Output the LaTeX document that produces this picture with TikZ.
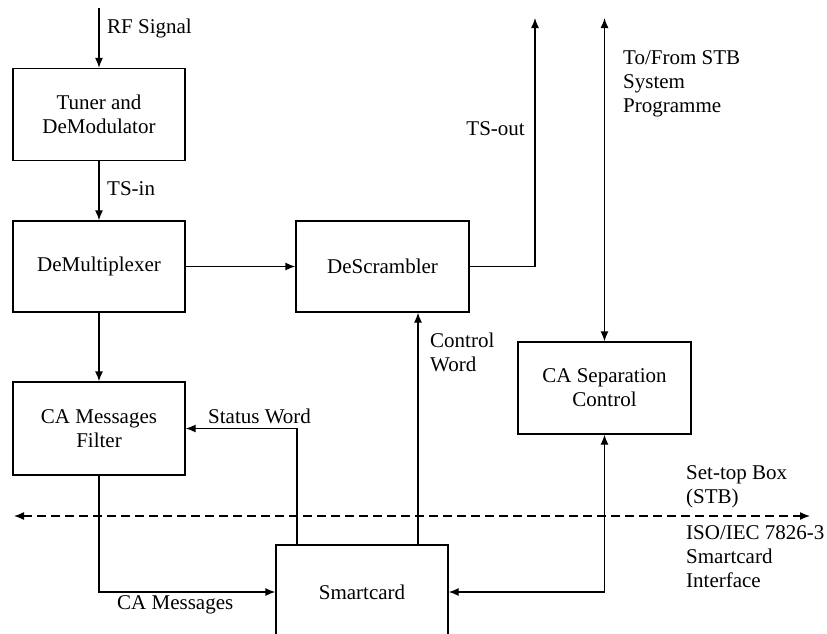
\documentclass[tikz,border=0pt]{standalone}
\usepackage{fontspec}
\setmainfont{Liberation Serif}
\usetikzlibrary{arrows.meta,calc}
\begin{document}
\begin{tikzpicture}[x=1pt,y=-1pt,
  font=\fontsize{21}{24}\selectfont,
  box/.style={draw,line width=1.3pt,inner sep=0pt,align=center,minimum width=172pt},
  wire/.style={line width=1.3pt},
  arr/.style={wire,-{Latex[length=10pt,width=8pt]}},
  arrb/.style={wire,{Latex[length=10pt,width=8pt]}-{Latex[length=10pt,width=8pt]}},
  lbl/.style={inner sep=0pt,align=left}]
\useasboundingbox (0,0) rectangle (827,633);
\node[box,minimum height=92pt] (tuner) at (99,114.5) {Tuner and\\DeModulator};
\node[box,minimum height=91pt] (demux) at (99,266.5) {DeMultiplexer};
\node[box,minimum height=93pt] (filter) at (99,428.5) {CA Messages\\Filter};
\node[box,minimum height=91pt,minimum width=173pt] (descr) at (382.5,266.5) {DeScrambler};
\node[box,minimum height=92pt,minimum width=173pt] (casep) at (604.5,388) {CA Separation\\Control};
\node[box,minimum height=94pt] (smart) at (362,592) {Smartcard};
\coordinate (rf) at (99,8);
\coordinate (tsout) at (535,18);
\coordinate (stb) at (604.5,18);
\coordinate (cw) at (418,0);
\coordinate (sw) at (297,0);
\coordinate (dl) at (14,516);
\coordinate (dr) at (810,516);
\draw[arr] (rf) -- (tuner);
\draw[arr] (tuner) -- (demux);
\draw[arr] (demux) -- (descr);
\draw[arr] (demux) -- (filter);
\draw[arr] (descr.east) -| (tsout);
\draw[arrb] (stb) -- (casep.north);
\draw[arr] (smart.north -| cw) -- (descr.south -| cw);
\draw[arr] (smart.north -| sw) |- (filter.east);
\draw[arr] (filter.south) |- (smart.west);
\draw[arrb] (smart.east) -| (casep.south);
\draw[arrb,dashed,dash pattern=on 9pt off 5pt] (dl) -- (dr);
\node[lbl,anchor=west] (lrf) at (107,28) {RF Signal};
\node[lbl,anchor=west] (lts) at (107,189) {TS-in};
\node[lbl,anchor=east] (lto) at (525,129) {TS-out};
\node[lbl,anchor=north west] (lstb) at (623,50) {To/From STB\\System\\Programme};
\node[lbl,anchor=north west] (lcw) at (430,333) {Control\\Word};
\node[lbl,anchor=west] (lsw) at (208,416) {Status Word};
\node[lbl,anchor=west] (lcm) at (117,605) {CA Messages};
\node[lbl,anchor=north west] (lbox) at (686,465) {Set-top Box\\(STB)};
\node[lbl,anchor=north west] (liso) at (686,525) {ISO/IEC 7826-3\\Smartcard\\Interface};
\end{tikzpicture}
\end{document}
